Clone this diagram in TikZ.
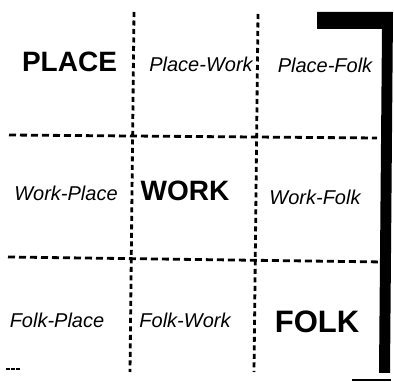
\documentclass[tikz,border=0pt]{standalone}
\usepackage{fontspec}
\setmainfont{Liberation Sans}
\begin{document}
\begin{tikzpicture}[x=1pt,y=-1pt,
  big/.style={font=\fontsize{28}{30}\selectfont\bfseries, inner sep=0pt},
  small/.style={font=\fontsize{20}{22}\selectfont\itshape, inner sep=0pt},
  hgrid/.style={line width=2.8pt, dash pattern=on 7pt off 4pt},
  vgrid/.style={line width=2.8pt, dash pattern=on 5pt off 3.5pt},
  bar/.style={fill=black, draw=none}]
\useasboundingbox[fill=white] (0,0) rectangle (394,382);
% grid coordinates
\coordinate (v1t) at (134,12);
\coordinate (v1b) at (130,372);
\coordinate (v2t) at (258,14);
\coordinate (v2b) at (254,372);
\coordinate (h1l) at (9,135);
\coordinate (h1r) at (377,138);
\coordinate (h2l) at (8,257);
\coordinate (h2r) at (384,262);
\draw[vgrid] (v1t) -- (v1b);
\draw[vgrid] (v2t) -- (v2b);
\draw[hgrid] (h1l) -- (h1r);
\draw[hgrid] (h2l) -- (h2r);
% thick bracket
\fill[bar] (317,12) -- (393,12) -- (390,373) -- (379,373) -- (382,29) -- (317,29) -- cycle;
% small marks
\coordinate (bl1) at (352,380);
\coordinate (bl2) at (391,380);
\draw[line width=1.4pt] (bl1) -- (bl2);
\coordinate (dl1) at (6,369);
\coordinate (dl2) at (20,369);
\draw[line width=1.4pt, dash pattern=on 3.5pt off 1.5pt] (dl1) -- (dl2);
% labels
\node[big] (place) at (69.5,62) {PLACE};
\node[small] (pw) at (201,64) {Place-Work};
\node[small] (pf) at (325,65) {Place-Folk};
\node[small] (wp) at (66,193) {Work-Place};
\node[big] (work) at (185,191) {WORK};
\node[small] (wf) at (315,197) {Work-Folk};
\node[small] (fp) at (57,320) {Folk-Place};
\node[small] (fw) at (185,320) {Folk-Work};
\node[big, font=\fontsize{31}{33}\selectfont\bfseries] (folk) at (317,322) {FOLK};
\end{tikzpicture}
\end{document}
